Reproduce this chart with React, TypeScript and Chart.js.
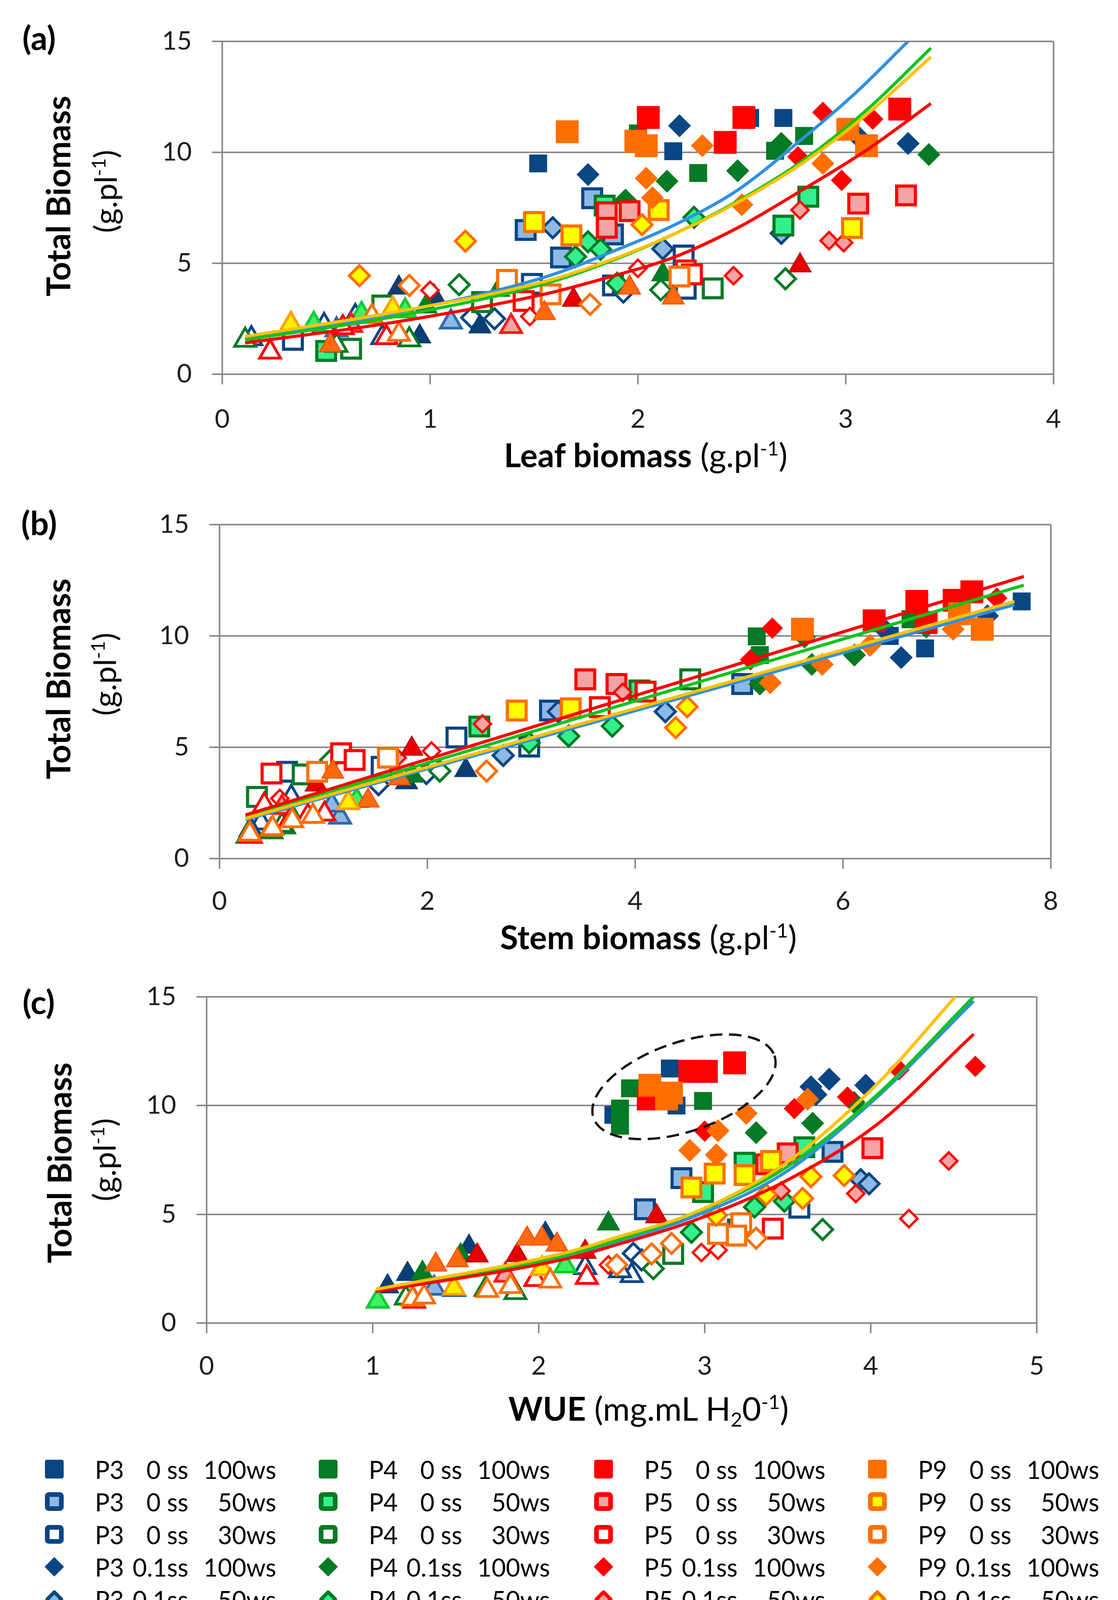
import React, { useEffect, useRef } from 'react';
import { Chart, registerables } from 'chart.js';
Chart.register(...registerables);

type Pt = [number, number];

// ---------------- categories / labels ----------------
const GENOTYPES = ['P3', 'P4', 'P5', 'P9'];
const SS_LABELS = ['0 ss', '0 ss', '0 ss', '0.1ss', '0.1ss', '0.1ss', '0.3ss', '0.3ss', '0.3ss'];
const WS_LABELS = ['100ws', '50ws', '30ws', '100ws', '50ws', '30ws', '100ws', '50ws', '30ws'];
const X_TICKS_A = [0, 1, 2, 3, 4];
const X_TICKS_B = [0, 2, 4, 6, 8];
const X_TICKS_C = [0, 1, 2, 3, 4, 5];
const Y_TICKS = [0, 5, 10, 15];

// ---------------- (a) Leaf biomass vs total biomass ----------------
// order of sub-arrays: 0ss100, 0ss50, 0ss30, 0.1ss100, 0.1ss50, 0.1ss30, 0.3ss100, 0.3ss50, 0.3ss30
const A_P3: Pt[][] = [
  [[1.52, 9.5], [2.17, 10.05], [2.54, 11.55], [2.70, 11.55]],
  [[1.46, 6.5], [1.78, 7.93], [1.63, 5.26], [1.88, 6.3]],
  [[1.49, 4.07], [0.34, 1.55], [2.22, 5.35], [2.23, 3.85], [1.88, 4.0]],
  [[1.76, 9.0], [2.20, 11.2], [3.05, 10.8], [3.30, 10.4]],
  [[1.59, 6.6], [2.69, 6.35], [2.12, 5.65]],
  [[1.31, 2.5], [1.20, 2.55], [1.93, 3.7]],
  [[0.85, 3.9], [1.02, 3.5], [1.24, 2.15], [0.74, 2.9], [0.95, 1.7]],
  [[1.10, 2.35], [0.55, 2.0]],
  [[0.14, 1.6], [0.49, 2.2], [0.64, 2.6], [0.77, 1.65]],
];
const A_P4: Pt[][] = [
  [[2.29, 9.07], [2.66, 10.07], [2.80, 10.74], [2.0, 10.85]],
  [[2.82, 8.0], [2.70, 6.7], [1.84, 7.6], [0.5, 1.05]],
  [[0.77, 3.1], [1.25, 3.25], [2.36, 3.87], [0.62, 1.15]],
  [[1.94, 7.85], [2.14, 8.7], [2.48, 9.17], [2.69, 10.4], [3.40, 9.9]],
  [[1.76, 5.97], [1.82, 5.63], [1.70, 5.3], [1.90, 4.1], [2.27, 7.07]],
  [[1.14, 4.03], [2.71, 4.3], [2.11, 3.8]],
  [[1.33, 3.8], [0.98, 3.05], [2.12, 4.5]],
  [[0.44, 2.25], [0.67, 2.7], [0.88, 2.85]],
  [[0.11, 1.53], [0.90, 1.55], [0.55, 1.3]],
];
const A_P5: Pt[][] = [
  [[2.05, 11.57], [2.42, 10.45], [2.51, 11.57], [3.26, 11.95]],
  [[1.85, 7.3], [1.96, 7.35], [1.85, 6.6], [3.06, 7.69], [3.29, 8.06]],
  [[2.23, 4.68], [1.45, 3.3], [2.26, 4.5]],
  [[2.89, 11.8], [2.77, 9.8], [2.98, 8.74], [3.13, 11.5]],
  [[2.92, 6.02], [2.99, 5.93], [2.78, 7.4], [2.46, 4.44]],
  [[1.0, 3.78], [2.0, 4.77], [1.48, 2.6]],
  [[2.78, 4.9], [1.69, 3.35]],
  [[1.39, 2.15], [0.62, 2.2]],
  [[0.23, 1.0], [0.58, 2.1], [0.79, 1.65]],
];
const A_P9: Pt[][] = [
  [[1.66, 10.93], [1.99, 10.5], [2.04, 10.3], [3.01, 11.04], [3.10, 10.3]],
  [[1.50, 6.86], [1.68, 6.26], [2.10, 7.4], [3.03, 6.59]],
  [[1.37, 4.25], [2.20, 4.4], [1.58, 3.6]],
  [[2.04, 8.83], [2.07, 7.95], [2.31, 10.3], [2.89, 9.5], [2.50, 7.64]],
  [[0.66, 4.44], [1.17, 6.0], [2.02, 6.74]],
  [[0.90, 4.0], [1.77, 3.15]],
  [[0.52, 1.3], [1.55, 2.75], [1.96, 3.9], [2.17, 3.45]],
  [[0.33, 2.25], [0.82, 2.95]],
  [[0.85, 1.8], [0.72, 2.6]],
];
const A_TREND_P3: Pt[] = [[0.11, 1.6], [0.8, 2.7], [1.56, 4.4], [1.87, 5.5], [2.17, 6.7], [2.48, 8.3], [2.79, 10.6], [3.05, 12.7], [3.3, 15.0]];
const A_TREND_P4: Pt[] = [[0.11, 1.55], [0.8, 2.55], [1.56, 4.1], [1.87, 5.1], [2.17, 6.3], [2.48, 7.8], [2.79, 9.6], [3.1, 11.9], [3.41, 14.7]];
const A_TREND_P5: Pt[] = [[0.11, 1.41], [0.8, 2.3], [1.56, 3.63], [1.87, 4.4], [2.17, 5.26], [2.48, 6.6], [2.79, 8.3], [3.1, 10.1], [3.41, 12.2]];
const A_TREND_P9: Pt[] = [[0.11, 1.7], [0.8, 2.75], [1.56, 4.2], [1.87, 5.15], [2.17, 6.3], [2.48, 7.75], [2.79, 9.5], [3.1, 11.7], [3.41, 14.3]];

// ---------------- (b) Stem biomass vs total biomass ----------------
const B_P3: Pt[][] = [
  [[7.72, 11.55], [6.79, 9.44], [6.45, 10.0]],
  [[3.18, 6.65], [5.03, 7.84]],
  [[2.28, 5.44], [2.98, 5.03], [0.65, 3.9], [1.56, 4.12]],
  [[6.56, 9.03], [7.39, 10.9], [6.42, 10.2]],
  [[2.73, 4.63], [4.29, 6.6], [3.26, 6.6]],
  [[1.99, 3.82], [1.53, 3.32]],
  [[2.37, 3.97], [1.80, 3.42]],
  [[1.16, 1.86], [1.08, 2.4]],
  [[0.69, 2.75], [0.40, 1.6], [0.30, 1.3]],
];
const B_P4: Pt[][] = [
  [[5.17, 9.98], [5.20, 9.14], [6.65, 10.75]],
  [[2.50, 5.93], [4.04, 7.55]],
  [[4.53, 8.05], [0.80, 3.78], [0.36, 2.77]],
  [[5.63, 9.95], [5.70, 8.72], [6.11, 9.14], [6.80, 10.4], [5.20, 7.84]],
  [[3.78, 5.95], [3.36, 5.5], [2.98, 5.2]],
  [[2.12, 3.93], [1.07, 4.43]],
  [[1.86, 3.72], [0.70, 1.9], [0.63, 1.4]],
  [[1.32, 2.6]],
  [[0.27, 1.0], [0.60, 1.5], [0.50, 1.2]],
];
const B_P5: Pt[][] = [
  [[7.24, 11.98], [7.07, 11.6], [6.71, 11.55], [6.30, 10.68], [6.80, 10.6]],
  [[3.52, 8.05], [3.82, 7.84]],
  [[4.10, 7.5], [3.66, 6.8], [0.50, 3.82], [1.17, 4.73], [1.30, 4.43]],
  [[7.48, 11.7], [5.32, 10.35], [5.11, 8.93]],
  [[3.88, 7.47], [2.53, 6.05], [1.71, 4.53]],
  [[2.04, 4.83], [0.58, 2.7]],
  [[1.85, 4.93], [0.93, 3.32]],
  [[0.60, 2.3]],
  [[1.01, 2.0], [0.85, 1.9], [0.43, 2.4], [0.30, 1.0], [0.68, 1.75]],
];
const B_P9: Pt[][] = [
  [[7.34, 10.3], [5.61, 10.3], [7.12, 11.0]],
  [[2.86, 6.65], [3.38, 6.75]],
  [[1.62, 4.53], [0.94, 3.9]],
  [[7.06, 10.3], [6.26, 9.58], [5.80, 8.72], [5.30, 7.9]],
  [[4.39, 5.88], [4.50, 6.82]],
  [[2.57, 3.93]],
  [[1.09, 3.9], [1.43, 2.6], [1.73, 3.6], [0.49, 1.3], [0.30, 1.1]],
  [[1.24, 2.51]],
  [[0.51, 1.35], [0.29, 1.1], [0.70, 1.7], [0.90, 1.9]],
];
const B_TREND_P3: Pt[] = [[0.25, 1.75], [7.65, 11.4]];
const B_TREND_P4: Pt[] = [[0.25, 1.86], [7.74, 12.28]];
const B_TREND_P5: Pt[] = [[0.25, 1.96], [7.74, 12.67]];
const B_TREND_P9: Pt[] = [[0.25, 1.8], [7.65, 11.55]];

// ---------------- (c) WUE vs total biomass ----------------
const C_P3: Pt[][] = [
  [[2.79, 11.7], [2.45, 9.57], [2.83, 10.0]],
  [[3.77, 7.87], [2.86, 6.66], [2.64, 5.23]],
  [[3.57, 5.3], [3.20, 4.3]],
  [[3.75, 11.21], [3.64, 10.86], [3.97, 10.93], [3.67, 10.5]],
  [[3.94, 6.59], [3.99, 6.4]],
  [[2.57, 3.2], [2.62, 2.9]],
  [[1.09, 1.68], [1.21, 2.25], [1.58, 3.5], [2.04, 4.1]],
  [[1.37, 1.6]],
  [[2.56, 2.18], [2.49, 2.4], [2.28, 2.55], [1.49, 1.55]],
];
const C_P4: Pt[][] = [
  [[2.55, 10.79], [2.49, 9.86], [2.49, 9.07], [2.99, 10.21]],
  [[3.60, 8.08], [3.24, 7.37], [2.99, 6.02]],
  [[2.81, 3.18]],
  [[3.31, 8.75], [3.65, 9.18], [3.90, 10.14]],
  [[3.30, 5.33], [3.48, 5.6], [2.92, 4.17]],
  [[3.71, 4.3], [2.69, 2.5]],
  [[1.30, 2.3], [1.53, 3.1], [2.42, 4.57]],
  [[1.03, 1.0], [2.16, 2.62]],
  [[1.20, 1.15], [1.68, 1.55], [1.86, 1.4]],
];
const C_P5: Pt[][] = [
  [[3.18, 11.96], [2.91, 11.57], [3.01, 11.57], [2.66, 10.3]],
  [[4.01, 8.04], [3.50, 7.8], [3.37, 7.3]],
  [[3.41, 4.34]],
  [[4.63, 11.8], [4.17, 11.64], [3.86, 10.39], [3.54, 9.86], [3.0, 8.82]],
  [[4.47, 7.45], [3.91, 5.95], [3.46, 6.07]],
  [[4.23, 4.8], [2.98, 3.24], [3.08, 3.35], [2.42, 2.67]],
  [[2.71, 4.9], [1.63, 3.1], [1.87, 3.12], [2.28, 3.27]],
  [[1.80, 2.2]],
  [[2.29, 2.1], [1.25, 1.0], [1.98, 2.0]],
];
const C_P9: Pt[][] = [
  [[2.67, 10.93], [2.80, 10.57], [2.77, 10.3]],
  [[2.92, 6.23], [3.06, 6.87], [3.24, 6.8], [3.40, 7.45]],
  [[3.22, 4.59], [3.19, 4.02], [3.08, 4.1]],
  [[3.62, 10.29], [3.25, 9.64], [3.08, 8.84], [2.91, 7.94], [3.07, 7.73]],
  [[3.64, 6.73], [3.84, 6.78], [3.59, 5.73], [3.37, 5.9], [3.07, 4.95]],
  [[3.31, 3.9], [2.80, 3.66], [2.68, 3.18], [2.47, 2.67]],
  [[1.38, 2.68], [1.51, 2.88], [1.93, 3.88], [2.02, 3.88], [2.11, 3.6]],
  [[2.02, 2.5], [1.49, 1.6]],
  [[1.24, 1.1], [1.31, 1.2], [1.69, 1.5], [1.83, 1.68], [2.07, 1.93]],
];
const C_TREND_P3: Pt[] = [[1.02, 1.5], [2.17, 3.1], [2.47, 3.75], [2.92, 4.85], [3.48, 6.9], [4.04, 10.4], [4.62, 14.8]];
const C_TREND_P4: Pt[] = [[1.02, 1.5], [2.17, 3.13], [2.47, 3.8], [2.92, 5.0], [3.48, 7.1], [4.04, 10.5], [4.62, 15.0]];
const C_TREND_P5: Pt[] = [[1.02, 1.45], [2.17, 2.96], [2.47, 3.6], [2.92, 4.67], [3.48, 6.5], [4.04, 9.14], [4.62, 13.28]];
const C_TREND_P9: Pt[] = [[1.02, 1.55], [2.17, 3.25], [2.47, 3.94], [2.92, 5.02], [3.48, 7.3], [4.04, 11.0], [4.51, 15.0]];
// ends of the major axis of the dashed ellipse (data units)
const C_ELLIPSE_AXIS: Pt[] = [[2.33, 9.43], [3.42, 12.29]];

// ---------------- styles ----------------
const W = 2862;
const H = 4586;
const FONT = 'Lato, "Open Sans", "DejaVu Sans", sans-serif';
const GRID = '#8A8A8A';
const TICK_COLOR = '#1E1E1E';
const Y_AXIS_W = 200;
const X_AXIS_H = 150;
const ELLIPSE_MINOR_PX = 114;
const TREND_WIDTH = 8;

const DARK: Record<string, string> = { P3: '#0A4683', P4: '#067A24', P5: '#FF0000', P9: '#FF6F00' };
const LIGHT: Record<string, string> = { P3: '#8DB8E6', P4: '#33F08C', P5: '#F5A3A3', P9: '#FFFF00' };
const TRI100_FILL: Record<string, string> = { P3: '#0B3E72', P4: '#067A24', P5: '#E60000', P9: '#FF6A10' };
const TRI100_STROKE: Record<string, string> = { P3: '#0B3E72', P4: '#067A24', P5: '#C00000', P9: '#FF5000' };
const TRI50_FILL: Record<string, string> = { P3: '#8DB8E6', P4: '#44EE66', P5: '#F5A3A3', P9: '#FFEE00' };
const TRI50_STROKE: Record<string, string> = { P3: '#2E6AAE', P4: '#11CC33', P5: '#FF1A1A', P9: '#FFA200' };
const TREND: Record<string, string> = { P3: '#2F91E0', P4: '#14C21E', P5: '#FF0000', P9: '#FFC200' };

function markerStyle(g: string, t: number) {
  const lvl = t % 3;
  const dark = DARK[g];
  if (t < 3) {
    if (lvl === 0) return { style: 'rect', r: g === 'P5' || g === 'P9' ? 40 : 31, fill: dark, stroke: dark, bw: 2 };
    return { style: 'rect', r: 34, fill: lvl === 1 ? LIGHT[g] : '#FFFFFF', stroke: dark, bw: 8 };
  }
  if (t < 6) {
    const small = g === 'P5';
    if (lvl === 0) return { style: 'rectRot', r: small ? 26 : 28, fill: dark, stroke: dark, bw: 2 };
    return { style: 'rectRot', r: small ? 22 : 26, fill: lvl === 1 ? LIGHT[g] : '#FFFFFF', stroke: dark, bw: small ? 6 : 7 };
  }
  if (lvl === 0) return { style: 'triangle', r: 32, fill: TRI100_FILL[g], stroke: TRI100_STROKE[g], bw: 3 };
  if (lvl === 1) return { style: 'triangle', r: 31, fill: TRI50_FILL[g], stroke: TRI50_STROKE[g], bw: 7 };
  return { style: 'triangle', r: 31, fill: '#FFFFFF', stroke: dark, bw: 7 };
}

interface Area { left: number; right: number; top: number; bottom: number }
interface PanelProps {
  canvasTop: number; canvasHeight: number; area: Area;
  xTicks: number[]; xTickPad: number;
  groups: Pt[][][]; trends: Pt[][]; ellipse?: Pt[];
}

function Panel(p: PanelProps) {
  const ref = useRef<HTMLCanvasElement>(null);
  useEffect(() => {
    if (!ref.current) return;
    const datasets: any[] = [];
    GENOTYPES.forEach((g, gi) => {
      p.groups[gi].forEach((pts, t) => {
        const st = markerStyle(g, t);
        datasets.push({
          type: 'scatter',
          label: `${g} ${SS_LABELS[t]} ${WS_LABELS[t]}`,
          data: pts.map(([x, y]) => ({ x, y })),
          pointStyle: st.style,
          pointRadius: st.r,
          pointHoverRadius: st.r,
          pointBackgroundColor: st.fill,
          pointBorderColor: st.stroke,
          pointBorderWidth: st.bw,
          clip: false,
          order: 200 - (gi * 9 + t),
        });
      });
    });
    p.trends.forEach((pts, gi) => {
      const g = GENOTYPES[gi];
      datasets.push({
        type: 'line',
        label: g,
        data: pts.map(([x, y]) => ({ x, y })),
        borderColor: TREND[g],
        backgroundColor: TREND[g],
        borderWidth: TREND_WIDTH,
        pointRadius: 0,
        fill: false,
        cubicInterpolationMode: 'monotone',
        order: 10 - gi,
      });
    });
    const xMin = p.xTicks[0];
    const xMax = p.xTicks[p.xTicks.length - 1];
    const plugins: any[] = [];
    if (p.ellipse) {
      const ends = p.ellipse;
      plugins.push({
        id: 'dashedEllipse',
        afterDatasetsDraw(chart: any) {
          const xs = chart.scales.x, ys = chart.scales.y, ctx = chart.ctx;
          const x1 = xs.getPixelForValue(ends[0][0]), y1 = ys.getPixelForValue(ends[0][1]);
          const x2 = xs.getPixelForValue(ends[1][0]), y2 = ys.getPixelForValue(ends[1][1]);
          const cx = (x1 + x2) / 2, cy = (y1 + y2) / 2;
          const a = Math.hypot(x2 - x1, y2 - y1) / 2;
          const ang = Math.atan2(y2 - y1, x2 - x1);
          ctx.save();
          ctx.setLineDash([32, 17]);
          ctx.lineWidth = 6;
          ctx.strokeStyle = '#151515';
          ctx.beginPath();
          ctx.ellipse(cx, cy, a, ELLIPSE_MINOR_PX, ang, 0, Math.PI * 2);
          ctx.stroke();
          ctx.restore();
        },
      });
    }
    const chart = new Chart(ref.current, {
      type: 'scatter',
      data: { datasets },
      plugins,
      options: {
        responsive: false,
        animation: false,
        events: [],
        layout: {
          padding: {
            left: p.area.left - Y_AXIS_W,
            right: W - p.area.right,
            top: p.area.top - p.canvasTop,
            bottom: p.canvasTop + p.canvasHeight - p.area.bottom - X_AXIS_H,
          },
        },
        plugins: { legend: { display: false }, tooltip: { enabled: false }, title: { display: false } },
        scales: {
          x: {
            type: 'linear',
            min: xMin,
            max: xMax,
            afterFit: (s: any) => { s.height = X_AXIS_H; },
            afterBuildTicks: (s: any) => { s.ticks = p.xTicks.map((v) => ({ value: v })); },
            ticks: {
              font: { family: FONT, size: 66 },
              color: TICK_COLOR,
              padding: p.xTickPad,
              maxRotation: 0,
              autoSkip: false,
            },
            grid: {
              color: (c: any) => (c.tick && c.tick.value === xMax ? GRID : 'rgba(0,0,0,0)'),
              tickColor: GRID,
              lineWidth: 4,
              tickLength: 26,
              drawOnChartArea: true,
              drawTicks: true,
            },
            border: { display: true, color: GRID, width: 4 },
          },
          y: {
            type: 'linear',
            min: 0,
            max: 15,
            afterFit: (s: any) => { s.width = Y_AXIS_W; },
            afterBuildTicks: (s: any) => { s.ticks = Y_TICKS.map((v) => ({ value: v })); },
            ticks: {
              font: { family: FONT, size: 66 },
              color: TICK_COLOR,
              padding: 52,
              autoSkip: false,
            },
            grid: { color: GRID, tickColor: GRID, lineWidth: 4, tickLength: 26, drawTicks: true },
            border: { display: true, color: GRID, width: 4 },
          },
        },
      } as any,
    });
    return () => chart.destroy();
  }, []);
  return (
    <canvas
      ref={ref}
      width={W}
      height={p.canvasHeight}
      style={{ position: 'absolute', left: 0, top: p.canvasTop, width: W, height: p.canvasHeight }}
    />
  );
}

const Sup = ({ children }: any) => (
  <span style={{ fontSize: '0.6em', verticalAlign: '0.6em', lineHeight: 0 }}>{children}</span>
);
const Sub = ({ children }: any) => (
  <span style={{ fontSize: '0.6em', verticalAlign: '-0.3em', lineHeight: 0 }}>{children}</span>
);

function Txt({ x, y, rotate, size, bold, children, align }: any) {
  const tx = align === 'left' ? '0' : align === 'right' ? '-100%' : '-50%';
  return (
    <div
      style={{
        position: 'absolute',
        left: x,
        top: y,
        transform: `translate(${tx}, -50%)${rotate ? ' rotate(-90deg)' : ''}`,
        transformOrigin: rotate ? 'center center' : undefined,
        whiteSpace: 'pre',
        lineHeight: 1,
        fontFamily: FONT,
        fontSize: size,
        fontWeight: bold ? 700 : 400,
        color: '#000',
      }}
    >
      {children}
    </div>
  );
}

function LegendMarker({ g, t, cx, cy }: { g: string; t: number; cx: number; cy: number }) {
  const lvl = t % 3;
  const dark = DARK[g];
  let el: any;
  let size = 50;
  if (t < 3) {
    size = 48;
    const sw = lvl === 0 ? 2 : 12;
    const fill = lvl === 0 ? dark : lvl === 1 ? LIGHT[g] : '#FFFFFF';
    el = <rect x={sw / 2} y={sw / 2} width={size - sw} height={size - sw} rx={4} fill={fill} stroke={dark} strokeWidth={sw} />;
  } else if (t < 6) {
    size = 52;
    const sw = lvl === 0 ? 2 : 9;
    const fill = lvl === 0 ? dark : lvl === 1 ? LIGHT[g] : '#FFFFFF';
    const i = sw * 0.75 + 1;
    const s = size;
    el = (
      <polygon
        points={`${s / 2},${i} ${s - i},${s / 2} ${s / 2},${s - i} ${i},${s / 2}`}
        fill={fill}
        stroke={dark}
        strokeWidth={sw}
        strokeLinejoin="round"
      />
    );
  } else {
    size = 52;
    const sw = lvl === 0 ? 3 : 10;
    const fill = lvl === 0 ? TRI100_FILL[g] : lvl === 1 ? TRI50_FILL[g] : '#FFFFFF';
    const stroke = lvl === 0 ? TRI100_STROKE[g] : lvl === 1 ? TRI50_STROKE[g] : dark;
    const s = size;
    const i = sw / 2 + 1;
    el = (
      <polygon
        points={`${s / 2},${i} ${s - i},${s - i} ${i},${s - i}`}
        fill={fill}
        stroke={stroke}
        strokeWidth={sw}
        strokeLinejoin="round"
      />
    );
  }
  return (
    <svg width={size} height={size} style={{ position: 'absolute', left: cx - size / 2, top: cy - size / 2 }}>
      {el}
    </svg>
  );
}

const LEG_COL_X = [139, 840, 1545, 2246];
const LEG_ROW0 = 3761;
const LEG_ROW_STEP = 83.3;
const LEG_FONT = 63;

function Legend() {
  const items: any[] = [];
  GENOTYPES.forEach((g, gi) => {
    const cx = LEG_COL_X[gi];
    for (let t = 0; t < 9; t++) {
      const cy = LEG_ROW0 + t * LEG_ROW_STEP;
      items.push(<LegendMarker key={`m${gi}-${t}`} g={g} t={t} cx={cx} cy={cy} />);
      items.push(<Txt key={`n${gi}-${t}`} x={cx + 104} y={cy} size={LEG_FONT} align="left">{g}</Txt>);
      items.push(<Txt key={`s${gi}-${t}`} x={cx + 343} y={cy} size={LEG_FONT} align="right">{SS_LABELS[t]}</Txt>);
      items.push(<Txt key={`w${gi}-${t}`} x={cx + 568} y={cy} size={LEG_FONT} align="right">{WS_LABELS[t]}</Txt>);
    }
    const ly = LEG_ROW0 + 9 * LEG_ROW_STEP;
    items.push(
      <div
        key={`l${gi}`}
        style={{
          position: 'absolute', left: cx - 80, top: ly - 5, width: 165, height: 10,
          borderRadius: 5, background: TREND[g],
        }}
      />
    );
    items.push(<Txt key={`ln${gi}`} x={cx + 104} y={ly} size={LEG_FONT} align="left">{g}</Txt>);
  });
  return <>{items}</>;
}

export default function App() {
  return (
    <div style={{ position: 'absolute', left: 0, top: 0, width: W, height: H, background: '#FFFFFF', overflow: 'hidden' }}>
      <Panel
        canvasTop={0}
        canvasHeight={1120}
        area={{ left: 569, right: 2697, top: 106, bottom: 958 }}
        xTicks={X_TICKS_A}
        xTickPad={50}
        groups={[A_P3, A_P4, A_P5, A_P9]}
        trends={[A_TREND_P3, A_TREND_P4, A_TREND_P5, A_TREND_P9]}
      />
      <Panel
        canvasTop={1250}
        canvasHeight={1120}
        area={{ left: 562, right: 2690, top: 1343, bottom: 2198 }}
        xTicks={X_TICKS_B}
        xTickPad={44}
        groups={[B_P3, B_P4, B_P5, B_P9]}
        trends={[B_TREND_P3, B_TREND_P4, B_TREND_P5, B_TREND_P9]}
      />
      <Panel
        canvasTop={2460}
        canvasHeight={1100}
        area={{ left: 529, right: 2654, top: 2547, bottom: 3387 }}
        xTicks={X_TICKS_C}
        xTickPad={45}
        groups={[C_P3, C_P4, C_P5, C_P9]}
        trends={[C_TREND_P3, C_TREND_P4, C_TREND_P5, C_TREND_P9]}
        ellipse={C_ELLIPSE_AXIS}
      />

      {/* panel labels */}
      <Txt x={100} y={96} size={84} bold>(a)</Txt>
      <Txt x={100} y={1338} size={84} bold>(b)</Txt>
      <Txt x={99} y={2564} size={84} bold>(c)</Txt>

      {/* y-axis titles */}
      <Txt x={148} y={502} size={84} bold rotate>Total Biomass</Txt>
      <Txt x={268} y={490} size={80} rotate>(g.pl<Sup>-1</Sup>)</Txt>
      <Txt x={148} y={1738} size={84} bold rotate>Total Biomass</Txt>
      <Txt x={266} y={1726} size={80} rotate>(g.pl<Sup>-1</Sup>)</Txt>
      <Txt x={151} y={2977} size={84} bold rotate>Total Biomass</Txt>
      <Txt x={265} y={2969} size={80} rotate>(g.pl<Sup>-1</Sup>)</Txt>

      {/* x-axis titles */}
      <Txt x={1653} y={1164} size={84}><b>Leaf biomass</b> (g.pl<Sup>-1</Sup>)</Txt>
      <Txt x={1660} y={2398} size={84}><b>Stem biomass</b> (g.pl<Sup>-1</Sup>)</Txt>
      <Txt x={1660} y={3605} size={84}><b>WUE</b> (mg.mL H<Sub>2</Sub>0<Sup>-1</Sup>)</Txt>

      <Legend />
    </div>
  );
}
